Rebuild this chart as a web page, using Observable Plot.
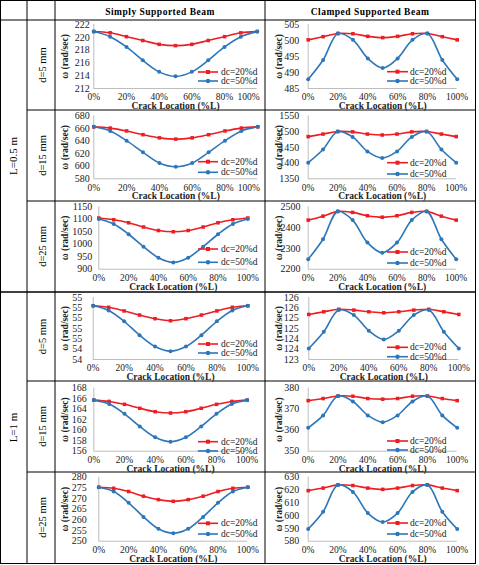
<!DOCTYPE html>
<html><head><meta charset="utf-8">
<script src="https://cdn.jsdelivr.net/npm/d3@7"></script>
<script src="https://cdn.jsdelivr.net/npm/@observablehq/plot@0.6"></script>
<style>
html,body{margin:0;padding:0;background:#fff;}
#root{position:relative;width:479px;height:565px;font-family:"Liberation Serif","Times New Roman",serif;}
#root svg{position:absolute;overflow:visible;}
</style></head><body><div id="root"></div>
<script>
// ---- data ----
const crackLoc = [0, 0.1, 0.2, 0.3, 0.4, 0.5, 0.6, 0.7, 0.8, 0.9, 1.0];
const xTicks = [0, 0.2, 0.4, 0.6, 0.8, 1.0];
const seriesNames = ["dc=20%d", "dc=50%d"];
const columnTitles = ["Simply Supported Beam", "Clamped Supported Beam"];
const lengthLabels = ["L=0.5 m", "L=1 m"];
const depthLabels = ["d=5 mm", "d=15 mm", "d=25 mm"];
const yTitle = "ω (rad/sec)";
const xTitle = "Crack Location (%L)";

// L=0.5 m
const redA = [220.9, 220.7, 220.1, 219.5, 218.9, 218.7, 218.9, 219.5, 220.1, 220.7, 220.9];
const blueA = [220.9, 220.1, 218.5, 216.4, 214.6, 213.9, 214.6, 216.4, 218.5, 220.1, 220.9];
const ticksA = [212, 214, 216, 218, 220, 222];
const redB = [500.2, 501.2, 502.2, 502.1, 501.3, 500.9, 501.3, 502.1, 502.2, 501.2, 500.2];
const blueB = [487.9, 493.9, 502.2, 500.2, 494.4, 491.4, 494.4, 500.2, 502.2, 493.9, 487.9];
const ticksB = [485, 490, 495, 500, 505];
const redC = [662.5, 660.5, 656, 650, 645, 643, 645, 650, 656, 660.5, 662.5];
const blueC = [662.5, 656, 640.5, 622, 605, 599, 605, 622, 640.5, 656, 662.5];
const ticksC = [580, 600, 620, 640, 660, 680];
const redD = [1484, 1492, 1500, 1499, 1492, 1489, 1492, 1499, 1500, 1492, 1484];
const blueD = [1401, 1443, 1500, 1483, 1437, 1416, 1437, 1483, 1500, 1443, 1401];
const ticksD = [1350, 1400, 1450, 1500, 1550];
const redE = [1105, 1098, 1086, 1069, 1055, 1050, 1055, 1069, 1086, 1098, 1105];
const blueE = [1101, 1081, 1040, 990, 946, 927, 946, 990, 1040, 1081, 1101];
const ticksE = [900, 950, 1000, 1050, 1100, 1150];
const redF = [2436, 2455, 2478, 2473, 2457, 2450, 2457, 2473, 2478, 2455, 2436];
const blueF = [2248, 2344, 2478, 2436, 2328, 2279, 2328, 2436, 2478, 2344, 2248];
const ticksF = [2200, 2300, 2400, 2500];
// L=1 m
const redG = [55.24, 55.21, 55.14, 55.06, 54.99, 54.95, 54.99, 55.06, 55.14, 55.21, 55.24];
const blueG = [55.24, 55.15, 54.94, 54.67, 54.45, 54.36, 54.45, 54.67, 54.94, 55.15, 55.24];
const ticksG = [54.2, 54.4, 54.6, 54.8, 55.0, 55.2, 55.4];
const tickLabelsG = ["54", "54", "55", "55", "55", "55", "55"];
const redH = [125.18, 125.31, 125.43, 125.39, 125.31, 125.26, 125.31, 125.39, 125.43, 125.31, 125.18];
const blueH = [123.53, 124.34, 125.39, 125.15, 124.39, 123.97, 124.39, 125.15, 125.39, 124.34, 123.53];
const ticksH = [123, 123.5, 124, 124.5, 125, 125.5, 126];
const tickLabelsH = ["123", "124", "124", "125", "125", "126", "126"];
const redI = [165.7, 165.45, 164.9, 164.15, 163.5, 163.25, 163.5, 164.15, 164.9, 165.45, 165.7];
const blueI = [165.7, 164.95, 163.1, 160.7, 158.65, 157.8, 158.65, 160.7, 163.1, 164.95, 165.7];
const ticksI = [156, 158, 160, 162, 164, 166, 168];
const redJ = [374.0, 375.0, 376.2, 376.1, 375.0, 374.7, 375.0, 376.1, 376.2, 375.0, 374.0];
const blueJ = [361.1, 367.0, 376.2, 373.6, 367.0, 363.8, 367.0, 373.6, 376.2, 367.0, 361.1];
const ticksJ = [350, 360, 370, 380];
const redK = [275.3, 274.8, 273.3, 271.1, 269.5, 268.7, 269.5, 271.1, 273.3, 274.8, 275.3];
const blueK = [275.3, 273.3, 268.0, 261.4, 255.8, 253.7, 255.8, 261.4, 268.0, 273.3, 275.3];
const ticksK = [250, 255, 260, 265, 270, 275, 280];
const redL = [619.5, 621.5, 624, 623.5, 621.5, 620.5, 621.5, 623.5, 624, 621.5, 619.5];
const blueL = [589.5, 603, 624, 618.5, 602, 595, 602, 618.5, 624, 603, 589.5];
const ticksL = [580, 590, 600, 610, 620, 630];

// ---- layout ----
const RED = "#ee1d23", BLUE = "#2c76b9";
const rowTop = [20, 110, 201, 292, 381, 472];
const rowH = [90, 91, 91, 89, 91, 91];
const frameTop = [4, 5.3, 5.3, 5, 6.5, 4.7];
const frameBot = [68, 68.3, 67.7, 67, 69.7, 68.7];
const colLeft = [55, 265];
const cellW = 210;

const charts = [
  {r:0,c:0,red:redA,blue:blueA,ticks:ticksA,ml:38.3,mr:8.3,pad:4,lastDx:-8.7,leg:[52,61]},
  {r:0,c:1,red:redB,blue:blueB,ticks:ticksB,ml:42.7,mr:18.3,pad:9,lastDx:0,leg:[51.7,61]},
  {r:1,c:0,red:redC,blue:blueC,ticks:ticksC,ml:38.3,mr:7.7,pad:4,lastDx:-9,leg:[51.7,62.3]},
  {r:1,c:1,red:redD,blue:blueD,ticks:ticksD,ml:42.7,mr:19.3,pad:9,lastDx:0,leg:[52.7,64]},
  {r:2,c:0,red:redE,blue:blueE,ticks:ticksE,ml:43.3,mr:17.7,pad:6.5,lastDx:0,leg:[48,61.3]},
  {r:2,c:1,red:redF,blue:blueF,ticks:ticksF,ml:42.7,mr:19.3,pad:7.7,lastDx:0,leg:[51,62]},
  {r:3,c:0,red:redG,blue:blueG,ticks:ticksG,labels:tickLabelsG,ml:37.7,mr:17.7,pad:11,lastDx:0,leg:[52,61]},
  {r:3,c:1,red:redH,blue:blueH,ticks:ticksH,labels:tickLabelsH,ml:43.3,mr:16.7,pad:10,lastDx:0,leg:[55.3,64.7]},
  {r:4,c:0,red:redI,blue:blueI,ticks:ticksI,ml:38.3,mr:18.3,pad:7,lastDx:0,leg:[60.7,70]},
  {r:4,c:1,red:redJ,blue:blueJ,ticks:ticksJ,ml:42.7,mr:18.3,pad:9,lastDx:0,leg:[60,69]},
  {r:5,c:0,red:redK,blue:blueK,ticks:ticksK,ml:43.3,mr:17.7,pad:12,lastDx:0,leg:[51.3,62]},
  {r:5,c:1,red:redL,blue:blueL,ticks:ticksL,ml:42.7,mr:18.3,pad:9,lastDx:0,leg:[51,62]}
];

const root = document.getElementById("root");

// ---- table grid and labels ----
const grid = d3.select(root).append("svg").attr("width", 479).attr("height", 565)
  .style("left", "0px").style("top", "0px");
const ln = (x1, y1, x2, y2, w = 1) => grid.append("line").attr("x1", x1).attr("y1", y1)
  .attr("x2", x2).attr("y2", y2).attr("stroke", "#000").attr("stroke-width", w);
[0.5, 20, 292, 563.5].forEach(y => ln(0, y, 476, y, y === 292 ? 1.5 : 1));
[110, 201, 381, 472].forEach(y => ln(27, y, 476, y));
[0.5, 27, 55, 265, 475.5].forEach(x => ln(x, 0, x, 564));
columnTitles.forEach((t, i) => grid.append("text").attr("x", colLeft[i] + cellW / 2).attr("y", 13)
  .attr("text-anchor", "middle").attr("dominant-baseline", "middle")
  .attr("font-family", "Liberation Serif").attr("font-weight", "bold").attr("font-size", 9.5)
  .attr("letter-spacing", 0.5).text(t));
lengthLabels.forEach((t, i) => {
  const cy = i === 0 ? (20 + 292) / 2 : (292 + 563) / 2;
  grid.append("text").attr("transform", `translate(14,${cy}) rotate(-90)`)
    .attr("text-anchor", "middle").attr("dominant-baseline", "middle")
    .attr("font-family", "Liberation Serif").attr("font-size", 11).text(t);
});
rowTop.forEach((top, r) => {
  const cy = top + rowH[r] / 2;
  grid.append("text").attr("transform", `translate(44,${cy}) rotate(-90)`)
    .attr("text-anchor", "middle").attr("dominant-baseline", "middle")
    .attr("font-family", "Liberation Serif").attr("font-size", 10.5).text(depthLabels[r % 3]);
});

// ---- charts ----
const pct = d => `${Math.round(d * 100)}%`;
charts.forEach(ch => {
  const H = rowH[ch.r];
  const mt = frameTop[ch.r], mb = H - frameBot[ch.r];
  const labMap = new Map(ch.ticks.map((t, i) => [t, ch.labels ? ch.labels[i] : String(t)]));
  const mk = vals => vals.map((v, i) => ({x: crackLoc[i], y: v}));
  const red = mk(ch.red), blue = mk(ch.blue);
  const yMin = d3.min(ch.ticks), yMax = d3.max(ch.ticks);
  const svg = Plot.plot({
    width: cellW, height: H,
    marginLeft: ch.ml, marginRight: ch.mr, marginTop: mt, marginBottom: mb,
    style: {background: "transparent", fontFamily: "Liberation Serif", fontSize: "10px", overflow: "visible", color: "#222"},
    x: {domain: [0, 1]},
    y: {domain: [yMin, yMax]},
    marks: [
      Plot.ruleX([0], {stroke: "#bdbdbd", strokeWidth: 1}),
      Plot.ruleY([yMin], {stroke: "#bdbdbd", strokeWidth: 1}),
      Plot.axisY({ticks: ch.ticks, tickSize: 0, tickPadding: ch.pad, tickFormat: d => labMap.get(d), label: null, fontSize: 10}),
      Plot.axisX({ticks: xTicks.slice(0, -1), tickSize: 0, tickPadding: 5, tickFormat: pct, label: null, fontSize: 9.5}),
      Plot.axisX({ticks: xTicks.slice(-1), tickSize: 0, tickPadding: 5, tickFormat: pct, label: null, fontSize: 9.5, dx: ch.lastDx}),
      Plot.line(red, {x: "x", y: "y", stroke: RED, strokeWidth: 1.6, curve: "catmull-rom"}),
      Plot.dot(red, {x: "x", y: "y", fill: RED, r: 2, symbol: "square"}),
      Plot.line(blue, {x: "x", y: "y", stroke: BLUE, strokeWidth: 1.6, curve: "catmull-rom"}),
      Plot.dot(blue, {x: "x", y: "y", fill: BLUE, r: 2}),
      Plot.text([yTitle], {frameAnchor: "left", dx: (ch.c === 0 ? 9.5 : 13.5) - ch.ml, rotate: -90,
        textAnchor: "middle", lineAnchor: "middle", fontWeight: "bold", fontSize: 9.5}),
      Plot.text([xTitle], {frameAnchor: "bottom", dy: 17.5, textAnchor: "middle", lineAnchor: "middle",
        fontWeight: "bold", fontSize: 9.5, letterSpacing: "0.4px"})
    ]
  });
  svg.style.left = colLeft[ch.c] + "px";
  svg.style.top = rowTop[ch.r] + "px";
  // legend
  const g = d3.select(svg).append("g").attr("text-anchor", "start");
  const lx = ch.c === 0 ? [143, 163, 166] : [122, 143, 145];
  [RED, BLUE].forEach((col, i) => {
    const y = ch.leg[i];
    g.append("line").attr("x1", lx[0]).attr("x2", lx[1]).attr("y1", y).attr("y2", y)
      .attr("stroke", col).attr("stroke-width", 1.6);
    const mx = (lx[0] + lx[1]) / 2;
    if (i === 0) g.append("rect").attr("x", mx - 2).attr("y", y - 2).attr("width", 4).attr("height", 4).attr("fill", col);
    else g.append("circle").attr("cx", mx).attr("cy", y).attr("r", 2.2).attr("fill", col);
    g.append("text").attr("x", lx[2]).attr("y", y).attr("dy", "0.32em").attr("font-size", 9.5)
      .attr("text-anchor", "start")
      .attr("font-family", "Liberation Serif").attr("fill", "#222").text(seriesNames[i]);
  });
  root.appendChild(svg);
});
</script>
</body></html>
